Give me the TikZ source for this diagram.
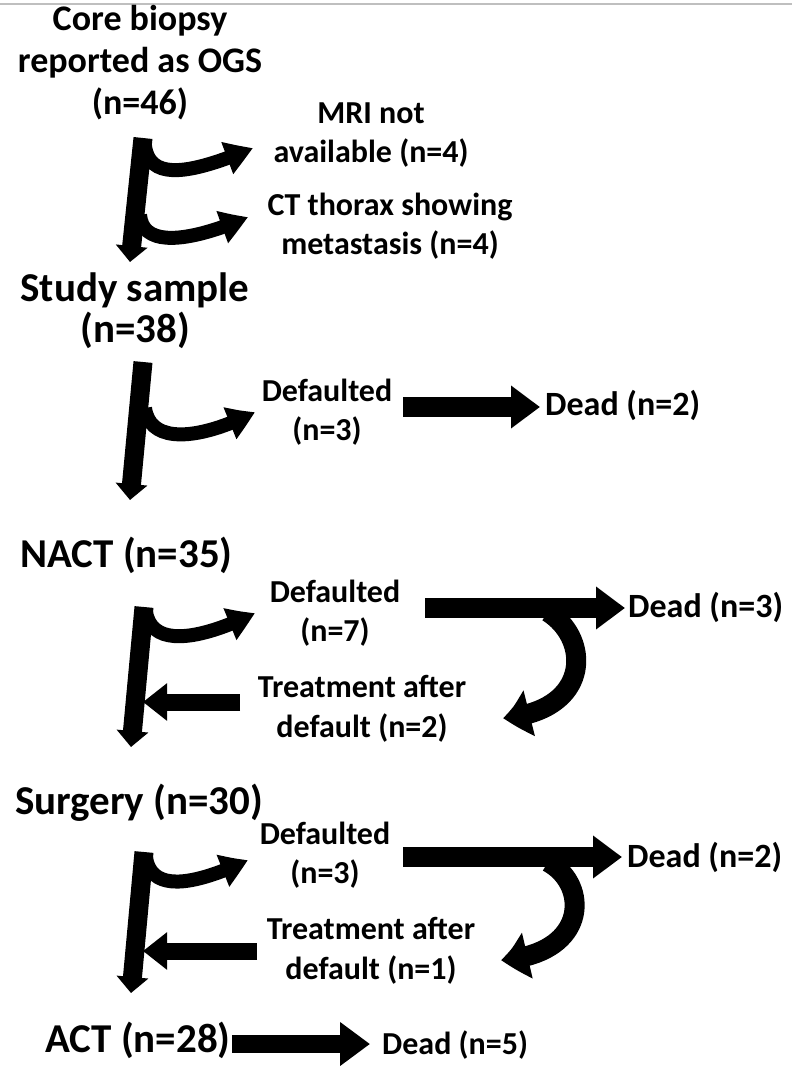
\documentclass[tikz,border=0pt]{standalone}
\usepackage{fontspec}
\setmainfont{Carlito}
\usetikzlibrary{arrows.meta,bending}
\begin{document}
\begin{tikzpicture}[x=1pt,y=-1pt,
  big/.style={font=\fontsize{41}{41}\selectfont\bfseries, inner sep=0pt, align=center},
  topt/.style={font=\fontsize{36}{42}\selectfont\bfseries, inner sep=0pt, align=center},
  lab/.style={font=\fontsize{32}{39.5}\selectfont\bfseries, inner sep=0pt, align=center},
  deadt/.style={font=\fontsize{34}{40}\selectfont\bfseries, inner sep=0pt, anchor=west},
  shaft/.style={line width=19pt, -{Triangle[length=16pt,width=31pt]}},
  branch/.style={line width=14pt, -{Triangle[length=28pt,width=32pt,bend]}},
  leftarr/.style={line width=17pt, -{Triangle[length=24pt,width=36pt]}},
  rightarr/.style={line width=20pt, -{Triangle[length=29pt,width=41pt]}},
  uarr/.style={line width=20pt, -{Triangle[length=28pt,width=44pt,bend]}}
]
\useasboundingbox (0,0) rectangle (792,1066);
\draw[black!25, line width=1.5pt] (0,4) -- (792,4);

% texts
\node[topt] (core) at (140,63) {Core biopsy\\reported as OGS\\(n=46)};
\node[lab] (mri) at (371,135) {MRI not\\available (n=4)};
\node[lab] (ct) at (390,226) {CT thorax showing\\metastasis (n=4)};
\node[big] (study) at (135,311) {Study sample\\(n=38)};
\node[lab] (def1) at (327,412) {Defaulted\\(n=3)};
\node[deadt] (dead1) at (545,405) {Dead (n=2)};
\node[big, anchor=west] (nact) at (20,555) {NACT (n=35)};
\node[lab] (def2) at (335,613) {Defaulted\\(n=7)};
\node[deadt] (dead2) at (628,607) {Dead (n=3)};
\node[lab] (tr2) at (362,709) {Treatment after\\default (n=2)};
\node[big, anchor=west] (surg) at (15,803) {Surgery (n=30)};
\node[lab] (def3) at (325,855) {Defaulted\\(n=3)};
\node[deadt] (dead3) at (627,857) {Dead (n=2)};
\node[lab] (tr3) at (371,951) {Treatment after\\default (n=1)};
\node[big, anchor=west] (act) at (45,1040) {ACT (n=28)};
\node[deadt, font=\fontsize{32}{38}\selectfont\bfseries] (dead5) at (382,1045) {Dead (n=5)};

% coordinates
\coordinate (s1a) at (143,138); \coordinate (s1b) at (130,262);
\coordinate (b1a) at (145,146); \coordinate (b1b) at (253,148);
\coordinate (b2a) at (140,215); \coordinate (b2b) at (248,217);
\coordinate (s2a) at (143,362); \coordinate (s2b) at (130,500);
\coordinate (b3a) at (145,408); \coordinate (b3b) at (255,412);
\coordinate (r1a) at (403,407); \coordinate (r1b) at (540,407);
\coordinate (s3a) at (144,607); \coordinate (s3b) at (131,747);
\coordinate (b4a) at (146,612); \coordinate (b4b) at (255,613);
\coordinate (l1a) at (240,702); \coordinate (l1b) at (143,702);
\coordinate (r2a) at (425,608); \coordinate (r2b) at (625,608);
\coordinate (u1a) at (548,612); \coordinate (u1b) at (503,718);
\coordinate (s4a) at (144,852); \coordinate (s4b) at (131,993);
\coordinate (b5a) at (146,858); \coordinate (b5b) at (248,860);
\coordinate (l2a) at (257,951); \coordinate (l2b) at (143,951);
\coordinate (r3a) at (403,857); \coordinate (r3b) at (622,857);
\coordinate (u2a) at (548,862); \coordinate (u2b) at (501,960);
\coordinate (r4a) at (232,1044); \coordinate (r4b) at (370,1044);

% arrows
\draw[shaft] (s1a) -- (s1b);
\draw[branch] (b1a) .. controls (150,185) and (200,170) .. (b1b);
\draw[branch] (b2a) .. controls (143,250) and (195,240) .. (b2b);
\draw[shaft] (s2a) -- (s2b);
\draw[branch] (b3a) .. controls (150,445) and (200,440) .. (b3b);
\draw[rightarr] (r1a) -- (r1b);
\draw[shaft] (s3a) -- (s3b);
\draw[branch] (b4a) .. controls (152,648) and (200,640) .. (b4b);
\draw[leftarr] (l1a) -- (l1b);
\draw[rightarr] (r2a) -- (r2b);
\draw[uarr] (u1a) .. controls (592,640) and (590,712) .. (u1b);
\draw[shaft] (s4a) -- (s4b);
\draw[branch] (b5a) .. controls (152,893) and (195,885) .. (b5b);
\draw[leftarr] (l2a) -- (l2b);
\draw[rightarr] (r3a) -- (r3b);
\draw[uarr] (u2a) .. controls (590,885) and (588,955) .. (u2b);
\draw[line width=18pt, -{Triangle[length=30pt,width=42pt]}] (r4a) -- (r4b);
\end{tikzpicture}
\end{document}
